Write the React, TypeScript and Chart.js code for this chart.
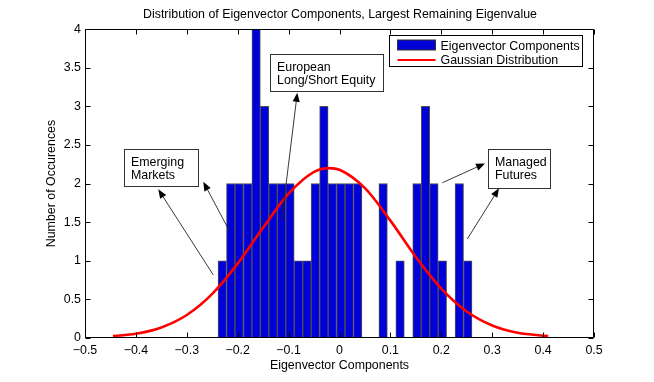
import React, { useEffect, useRef } from 'react';
import { Chart, registerables } from 'chart.js';

Chart.register(...registerables);

// ---------- data ----------
const binCenters = [
  -0.2303, -0.2137, -0.1971, -0.1804, -0.1638, -0.1472, -0.1305, -0.1139, -0.0973, -0.0806,
  -0.0640, -0.0474, -0.0307, -0.0141, 0.0025, 0.0192, 0.0358, 0.0524, 0.0691, 0.0857,
  0.1023, 0.1190, 0.1356, 0.1522, 0.1689, 0.1855, 0.2021, 0.2188, 0.2354, 0.2520,
];
const counts = [1, 2, 2, 2, 4, 3, 2, 2, 2, 1, 1, 2, 3, 2, 2, 2, 2, 0, 0, 2, 0, 1, 0, 2, 3, 2, 1, 0, 2, 1];

const gaussX = [-0.445, -0.40, -0.35, -0.30, -0.25, -0.20, -0.15, -0.10, -0.05, -0.02, 0.00, 0.05, 0.10, 0.15, 0.20, 0.25, 0.30, 0.35, 0.41];
const gaussY = [0.025, 0.055, 0.137, 0.298, 0.571, 0.963, 1.43, 1.868, 2.15, 2.2, 2.178, 1.94, 1.52, 1.05, 0.64, 0.343, 0.162, 0.067, 0.025];

const xTicks = [-0.5, -0.4, -0.3, -0.2, -0.1, 0, 0.1, 0.2, 0.3, 0.4, 0.5];
const yTicks = [0, 0.5, 1, 1.5, 2, 2.5, 3, 3.5, 4];

const titleText = 'Distribution of Eigenvector Components, Largest Remaining Eigenvalue';
const xLabel = 'Eigenvector Components';
const yLabel = 'Number of Occurences';
const seriesNames = ['Eigenvector Components', 'Gaussian Distribution'];

const noteTexts = [
  ['Emerging', 'Markets'],
  ['European', 'Long/Short Equity'],
  ['Managed', 'Futures'],
];
// box: [xLeft, xRight, yTop, yBottom] in data units; arrows: [xTail, yTail, xHead, yHead]
const noteBoxes = [
  [-0.4234, -0.2786, 2.443, 1.972],
  [-0.1365, 0.086, 3.676, 3.201],
  [0.2912, 0.4136, 2.444, 1.946],
];
const noteArrows = [
  [[-0.2479, 0.816, -0.356, 1.925], [-0.2165, 1.389, -0.2676, 2.023]],
  [[-0.1136, 1.528, -0.0829, 3.175]],
  [[0.202, 2.01, 0.2859, 2.261], [0.2511, 1.282, 0.3134, 1.938]],
];

// ---------- styles ----------
const FONT = '"Liberation Sans", Arial, Helvetica, sans-serif';
const FS = 12.4;
const BAR_FILL = '#0000d8';
const BAR_EDGE = '#505050';
const LINE_RED = '#ff0000';

const overlayPlugin = {
  id: 'matlabOverlay',
  afterDraw(chart: any) {
    const { ctx, chartArea: a, scales } = chart;
    const xs = scales.x;
    const ys = scales.y;
    ctx.save();

    // axes box
    const L = Math.round(a.left) + 0.5;
    const R = Math.round(a.right) - 0.5;
    const T = Math.round(a.top) + 0.5;
    const B = Math.round(a.bottom) - 0.5;
    ctx.strokeStyle = '#000';
    ctx.lineWidth = 1;
    ctx.beginPath();
    ctx.rect(L, T, R - L, B - T);
    // ticks (inward, all four sides)
    const tl = 5;
    xTicks.forEach((v) => {
      const px = Math.round(xs.getPixelForValue(v)) + 0.5;
      ctx.moveTo(px, B); ctx.lineTo(px, B - tl);
      ctx.moveTo(px, T); ctx.lineTo(px, T + tl);
    });
    yTicks.forEach((v) => {
      const py = Math.round(ys.getPixelForValue(v)) + 0.5;
      ctx.moveTo(L, py); ctx.lineTo(L + tl, py);
      ctx.moveTo(R, py); ctx.lineTo(R - tl, py);
    });
    ctx.stroke();

    // annotations
    ctx.font = `${FS}px ${FONT}`;
    noteTexts.forEach((lines, i) => {
      const [bx0, bx1, by0, by1] = noteBoxes[i];
      const x0 = Math.round(xs.getPixelForValue(bx0)) + 0.5;
      const x1 = Math.round(xs.getPixelForValue(bx1)) + 0.5;
      const y0 = Math.round(ys.getPixelForValue(by0)) + 0.5;
      const y1 = Math.round(ys.getPixelForValue(by1)) + 0.5;
      ctx.fillStyle = '#fff';
      ctx.fillRect(x0, y0, x1 - x0, y1 - y0);
      ctx.strokeStyle = '#333';
      ctx.lineWidth = 1;
      ctx.strokeRect(x0, y0, x1 - x0, y1 - y0);
      ctx.fillStyle = '#000';
      ctx.textAlign = 'left';
      ctx.textBaseline = 'alphabetic';
      lines.forEach((t, k) => ctx.fillText(t, x0 + 6.5, y0 + 16 + k * 13.6));

      noteArrows[i].forEach(([tx, ty, hx, hy]) => {
        const px0 = xs.getPixelForValue(tx);
        const py0 = ys.getPixelForValue(ty);
        const px1 = xs.getPixelForValue(hx);
        const py1 = ys.getPixelForValue(hy);
        const ang = Math.atan2(py1 - py0, px1 - px0);
        const hl = 9;
        const hw = 3.6;
        const bxp = px1 - hl * Math.cos(ang);
        const byp = py1 - hl * Math.sin(ang);
        ctx.strokeStyle = '#222';
        ctx.lineWidth = 0.9;
        ctx.beginPath();
        ctx.moveTo(px0, py0);
        ctx.lineTo(bxp, byp);
        ctx.stroke();
        ctx.fillStyle = '#000';
        ctx.beginPath();
        ctx.moveTo(px1, py1);
        ctx.lineTo(bxp + hw * Math.sin(ang), byp - hw * Math.cos(ang));
        ctx.lineTo(bxp - hw * Math.sin(ang), byp + hw * Math.cos(ang));
        ctx.closePath();
        ctx.fill();
      });
    });

    // legend
    const lw = 193;
    const lh = 31;
    const lx = Math.round(a.right - 12 - lw) + 0.5;
    const ly = Math.round(a.top + 6) + 0.5;
    ctx.fillStyle = '#fff';
    ctx.fillRect(lx, ly, lw, lh);
    ctx.strokeStyle = '#000';
    ctx.lineWidth = 1;
    ctx.strokeRect(lx, ly, lw, lh);
    ctx.fillStyle = BAR_FILL;
    ctx.fillRect(lx + 8, ly + 4.5, 38, 10);
    ctx.strokeStyle = '#333';
    ctx.strokeRect(lx + 8, ly + 4.5, 38, 10);
    ctx.strokeStyle = LINE_RED;
    ctx.lineWidth = 2.2;
    ctx.beginPath();
    ctx.moveTo(lx + 8, ly + 24.5);
    ctx.lineTo(lx + 46, ly + 24.5);
    ctx.stroke();
    ctx.fillStyle = '#000';
    ctx.textAlign = 'left';
    ctx.textBaseline = 'alphabetic';
    ctx.fillText(seriesNames[0], lx + 51, ly + 14);
    ctx.fillText(seriesNames[1], lx + 51, ly + 28.5);

    ctx.restore();
  },
};

export default function App() {
  const canvasRef = useRef<HTMLCanvasElement | null>(null);

  useEffect(() => {
    document.body.style.margin = '0';
    const canvas = canvasRef.current;
    if (!canvas) return;
    const chart = new Chart(canvas, {
      type: 'bar',
      data: {
        datasets: [
          {
            type: 'bar',
            label: seriesNames[0],
            data: binCenters.map((c, i) => ({ x: c, y: counts[i] })),
            backgroundColor: BAR_FILL,
            borderColor: BAR_EDGE,
            borderWidth: 1,
            borderSkipped: false,
            barPercentage: 1,
            categoryPercentage: 1,
            order: 2,
          } as any,
          {
            type: 'line',
            label: seriesNames[1],
            data: gaussX.map((gx, i) => ({ x: gx, y: gaussY[i] })),
            borderColor: LINE_RED,
            borderWidth: 2.6,
            pointRadius: 0,
            fill: false,
            cubicInterpolationMode: 'monotone',
            order: 1,
          } as any,
        ],
      },
      options: {
        responsive: false,
        animation: false,
        events: [],
        devicePixelRatio: 1,
        layout: { padding: { left: 26, right: 0, top: 0, bottom: 0 } },
        plugins: {
          legend: { display: false },
          tooltip: { enabled: false },
          title: {
            display: true,
            text: titleText,
            color: '#000',
            font: { family: FONT, size: FS, weight: 'normal' },
            padding: { top: 7.1, bottom: 7.1 },
          },
        },
        scales: {
          x: {
            type: 'linear',
            min: -0.5,
            max: 0.5,
            offset: false,
            grid: { display: false, drawTicks: false, offset: false },
            border: { display: false },
            afterBuildTicks: (s: any) => {
              s.ticks = xTicks.map((v) => ({ value: v }));
            },
            afterFit: (s: any) => {
              s.height = 44;
            },
            ticks: {
              color: '#000',
              padding: 5,
              maxRotation: 0,
              autoSkip: false,
              font: { family: FONT, size: FS },
              callback: (v: any) => {
                const n = Number(v);
                if (Math.abs(n) < 1e-9) return '0';
                return n < 0 ? '\u2212' + Math.abs(n).toFixed(1) : n.toFixed(1);
              },
            },
            title: {
              display: true,
              text: xLabel,
              color: '#000',
              font: { family: FONT, size: FS },
              padding: { top: 0, bottom: 8.6 },
            },
          },
          y: {
            type: 'linear',
            min: 0,
            max: 4,
            grid: { display: false, drawTicks: false },
            border: { display: false },
            afterBuildTicks: (s: any) => {
              s.ticks = yTicks.map((v) => ({ value: v }));
            },
            afterFit: (s: any) => {
              s.width = 59;
            },
            ticks: {
              color: '#000',
              padding: 4,
              autoSkip: false,
              font: { family: FONT, size: FS },
              callback: (v: any) => String(Number(v)),
            },
            title: {
              display: true,
              text: yLabel,
              color: '#000',
              font: { family: FONT, size: FS },
              padding: { top: 18.6, bottom: 0 },
            },
          },
          yRight: {
            type: 'linear',
            position: 'right',
            display: true,
            min: 0,
            max: 4,
            grid: { display: false, drawTicks: false },
            border: { display: false },
            ticks: { display: false },
            afterFit: (s: any) => {
              s.width = 60;
            },
          },
        },
      } as any,
      plugins: [overlayPlugin],
    });
    return () => chart.destroy();
  }, []);

  return (
    <div style={{ width: 654, height: 382, background: '#fff' }}>
      <canvas ref={canvasRef} width={654} height={382} style={{ display: 'block' }} />
    </div>
  );
}
